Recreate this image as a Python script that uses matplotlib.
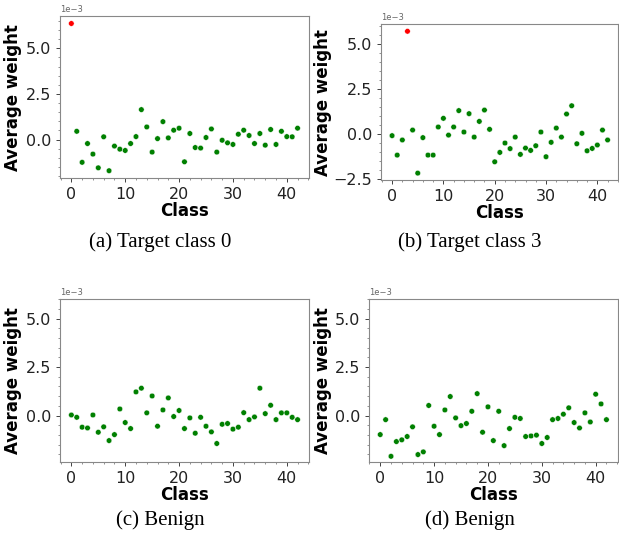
import matplotlib

matplotlib.use("Agg")
import matplotlib.pyplot as plt
import numpy as np
from matplotlib.ticker import AutoMinorLocator, MultipleLocator

# average weight per class (units of 1e-3)
classes = np.arange(43)

weights_a = [
    6.36, 0.45, -1.25, -0.22, -0.80, -1.55, 0.15, -1.71, -0.36, -0.53,
    -0.60, -0.22, 0.16, 1.64, 0.69, -0.69, 0.05, 0.98, 0.09, 0.51,
    0.62, -1.22, 0.33, -0.44, -0.47, 0.11, 0.58, -0.69, -0.04, -0.18,
    -0.27, 0.29, 0.51, 0.22, -0.22, 0.33, -0.31, 0.55, -0.27, 0.45,
    0.16, 0.15, 0.62,
]
weights_b = [
    -0.09, -1.17, -0.33, 5.70, 0.22, -2.17, -0.20, -1.17, -1.17, 0.39,
    0.87, -0.06, 0.39, 1.30, 0.11, 1.13, -0.17, 0.70, 1.33, 0.26,
    -1.54, -1.02, -0.50, -0.81, -0.17, -1.13, -0.78, -0.91, -0.65, 0.11,
    -1.26, -0.46, 0.33, -0.17, 1.11, 1.57, -0.54, 0.04, -0.93, -0.80,
    -0.61, 0.22, -0.33,
]
weights_c = [
    0.03, -0.09, -0.60, -0.64, 0.03, -0.86, -0.58, -1.29, -0.98, 0.34,
    -0.36, -0.67, 1.22, 1.41, 0.14, 1.01, -0.55, 0.29, 0.91, -0.05,
    0.26, -0.67, -0.12, -0.91, -0.09, -0.55, -0.84, -1.44, -0.45, -0.41,
    -0.70, -0.60, 0.15, -0.21, -0.07, 1.41, 0.10, 0.53, -0.21, 0.14,
    0.14, -0.09, -0.21,
]
weights_d = [
    -0.98, -0.21, -2.10, -1.34, -1.25, -1.08, -0.58, -2.01, -1.87, 0.52,
    -0.55, -0.98, 0.29, 0.98, -0.12, -0.52, -0.41, 0.22, 1.13, -0.86,
    0.45, -1.29, 0.22, -1.55, -0.67, -0.09, -0.15, -1.08, -1.05, -1.01,
    -1.44, -1.13, -0.21, -0.15, 0.07, 0.40, -0.36, -0.64, 0.14, -0.33,
    1.10, 0.60, -0.21,
]

target_classes = [0, 3, None, None]
captions = ["(a) Target class 0", "(b) Target class 3", "(c) Benign", "(d) Benign"]

# [left, bottom, width, height] in figure fraction
positions = [
    [0.097, 0.669, 0.402, 0.301],
    [0.616, 0.665, 0.383, 0.290],
    [0.097, 0.141, 0.402, 0.303],
    [0.596, 0.141, 0.402, 0.303],
]
ylabel_x = [-0.153, -0.207, -0.153, -0.149]
caption_xy = [(160, 242), (470, 242), (160, 520), (470, 520)]
fixed_ylim = [None, None, (-2.4, 6.0), (-2.4, 6.0)]

fig = plt.figure(figsize=(6.19, 5.38), dpi=100)

for values, target, pos, ylim, lx in zip(
    [weights_a, weights_b, weights_c, weights_d],
    target_classes, positions, fixed_ylim, ylabel_x,
):
    ax = fig.add_axes(pos)
    vals = np.array(values) * 1e-3
    colors = ["red" if c == target else "green" for c in classes]
    ax.scatter(classes, vals, c=colors, s=16, edgecolors="white",
               linewidths=0.3, zorder=3)
    if ylim is not None:
        ax.set_ylim(ylim[0] * 1e-3, ylim[1] * 1e-3)
    ax.xaxis.set_major_locator(MultipleLocator(10))
    ax.yaxis.set_major_locator(MultipleLocator(2.5e-3))
    ax.yaxis.set_minor_locator(AutoMinorLocator(5))
    ax.xaxis.set_minor_locator(AutoMinorLocator(5))
    ax.ticklabel_format(axis="y", style="sci", scilimits=(-3, -3))
    ax.yaxis.get_offset_text().set_fontsize(6)
    ax.yaxis.get_offset_text().set_color("#555555")
    ax.tick_params(labelsize=11.5, colors="#222222", length=3, width=0.6,
                   labelcolor="#222222")
    ax.tick_params(which="minor", length=1.5, width=0.5, colors="#666666")
    for spine in ax.spines.values():
        spine.set_color("#888888")
        spine.set_linewidth(0.8)
    ax.set_xlabel("Class", fontsize=12, fontweight="bold", labelpad=0)
    ax.set_ylabel("Average weight", fontsize=12, fontweight="bold")
    ax.yaxis.set_label_coords(lx, 0.5)

for text, (x, y) in zip(captions, caption_xy):
    fig.text(x / 619, 1 - y / 538, text, ha="center", va="center",
             fontsize=15, family="Liberation Serif")

fig.savefig("out.png", dpi=100)
